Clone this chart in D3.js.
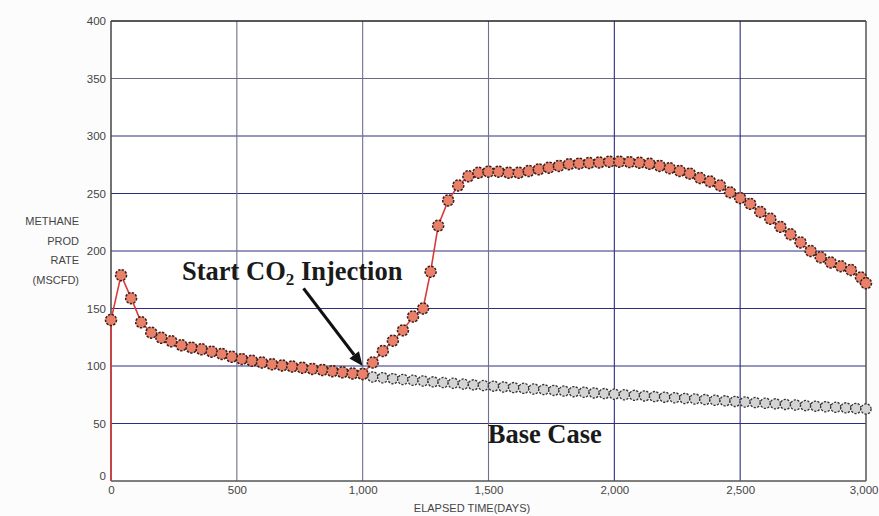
<!DOCTYPE html>
<html><head><meta charset="utf-8">
<script src="https://cdn.jsdelivr.net/npm/d3@7"></script>
<style>
html,body{margin:0;padding:0;background:#fcfcfc;}
svg{display:block;}
</style></head>
<body>
<svg id="chart" width="879" height="516"></svg>
<script>
// ---- data ----
const co2Days = [0,40,80,120,160,200,240,280,320,360,400,440,480,520,560,600,640,680,720,760,800,840,880,920,960,1000,
  1040,1080,1120,1160,1200,1240,1270,1300,1340,1380,1420,1460,1500,1540,1580,1620,1660,1700,1740,1780,1820,1860,1900,1940,1980,
  2020,2060,2100,2140,2180,2220,2260,2300,2340,2380,2420,2460,2500,2540,2580,2620,2660,2700,2740,2780,2820,2860,2900,2940,2980,3000];
const co2Rate = [140,179,159,138,129,124.5,121.5,118,116,114.5,112.5,110.5,108,106,104.5,103,101.5,100.5,99.5,98.5,97.5,96.5,95.5,94.5,93.5,93,
  103,113,122,131,143,150,182,222,244,257,265,268,269,269,268,268,269.5,271,272.5,274,275.5,276,276.5,277,277.7,
  277.7,277.3,276.8,275.8,274,272,269.6,267.3,263.5,260.5,257,251,246,241,234,228,221,214.5,207.5,200,194.5,190,186.8,183.5,177,172];
const baseDays = [1040,1080,1120,1160,1200,1240,1280,1320,1360,1400,1440,1480,1520,1560,1600,1640,1680,1720,1760,1800,1840,1880,1920,1960,2000,
  2040,2080,2120,2160,2200,2240,2280,2320,2360,2400,2440,2480,2520,2560,2600,2640,2680,2720,2760,2800,2840,2880,2920,2960,3000];
const baseRate = [90.5,89.8,89,88.3,87.6,87,86.2,85.6,85,84.3,83.6,83,82.5,81.8,81.2,80.6,80,79.5,78.8,78.2,77.7,77.2,76.6,76,75.5,
  75,74.5,74,73.4,72.9,72.4,71.8,71.3,70.8,70.2,69.7,69.2,68.7,68.2,67.6,67.1,66.6,66.1,65.6,65.1,64.6,64.1,63.6,63.1,62.6];
const xTicks = [0,500,1000,1500,2000,2500,3000];
const xTickLabels = ["0","500","1,000","1,500","2,000","2,500","3,000"];
const yTicks = [0,50,100,150,200,250,300,350,400];
const yTitleLines = ["METHANE","PROD","RATE","(MSCFD)"];
const xTitle = "ELAPSED TIME(DAYS)";

// ---- layout ----
const svg = d3.select("#chart");
const L = 111, R = 866, T = 21, B = 481;
const x = d3.scaleLinear().domain([0,3000]).range([L,R]);
const y = d3.scaleLinear().domain([0,400]).range([B,T]);
const sans = "'Liberation Sans', Arial, sans-serif";
const serif = "'Liberation Serif', 'Times New Roman', serif";

// plot background
svg.append("rect").attr("x",L).attr("y",T).attr("width",R-L).attr("height",B-T).attr("fill","#ffffff");

// gridlines
svg.append("g").selectAll("line").data(yTicks.filter(d=>d>0 && d<400)).join("line")
  .attr("x1",L).attr("x2",R).attr("y1",d=>y(d)).attr("y2",d=>y(d))
  .attr("stroke",d=>d===350?"#6a6a80":"#2e2e7e").attr("stroke-width",1.1);
svg.append("g").selectAll("line").data(xTicks.filter(d=>d>0 && d<3000)).join("line")
  .attr("x1",d=>x(d)).attr("x2",d=>x(d)).attr("y1",T).attr("y2",B)
  .attr("stroke",d=>d<=1500?"#707090":"#2e2e7e").attr("stroke-width",1.1);

// frame
svg.append("line").attr("x1",L).attr("x2",R).attr("y1",T).attr("y2",T).attr("stroke","#222").attr("stroke-width",1.5);
svg.append("line").attr("x1",R).attr("x2",R).attr("y1",T).attr("y2",B).attr("stroke","#555").attr("stroke-width",1.5);
svg.append("line").attr("x1",L).attr("x2",L).attr("y1",T).attr("y2",B).attr("stroke","#444").attr("stroke-width",1.5);
svg.append("line").attr("x1",L).attr("x2",R).attr("y1",B).attr("y2",B).attr("stroke","#555").attr("stroke-width",1.5);

// axes (labels only, using d3 axes)
const yAxis = d3.axisLeft(y).tickValues(yTicks).tickSize(0).tickPadding(5).tickFormat(d3.format("d"));
const gy = svg.append("g").attr("transform",`translate(${L},0)`).call(yAxis);
gy.select(".domain").remove();
gy.selectAll("text").attr("font-family",sans).attr("font-size",11.5).attr("fill","#444")
  .attr("dy",d=>d===0?"-0.1em":"0.32em");

const xAxis = d3.axisBottom(x).tickValues(xTicks).tickSize(0).tickPadding(5)
  .tickFormat((d,i)=>xTickLabels[i]);
const gx = svg.append("g").attr("transform",`translate(0,${B})`).call(xAxis);
gx.select(".domain").remove();
gx.selectAll("text").attr("font-family",sans).attr("font-size",11.5).attr("fill","#444")
  .attr("text-anchor",d=>d===3000?"end":"middle").attr("dx",d=>d===3000?"12px":"0");

// axis titles
svg.append("text").attr("x",472).attr("y",512).attr("text-anchor","middle")
  .attr("font-family",sans).attr("font-size",11).attr("fill","#444").text(xTitle);
svg.append("g").selectAll("text").data(yTitleLines).join("text")
  .attr("x",79).attr("y",(d,i)=>225+i*19.5).attr("text-anchor","end")
  .attr("font-family",sans).attr("font-size",11).attr("fill","#444").text(d=>d);

// base case series
const baseData = baseDays.map((d,i)=>({d, v:baseRate[i]}));
const line = d3.line().x(p=>x(p.d)).y(p=>y(p.v));
svg.append("path").datum(baseData).attr("d",line).attr("fill","none").attr("stroke","#999").attr("stroke-width",1);
svg.append("g").selectAll("circle").data(baseData).join("circle")
  .attr("cx",p=>x(p.d)).attr("cy",p=>y(p.v)).attr("r",5.1)
  .attr("fill","#d4d4d4").attr("stroke","#333").attr("stroke-width",1.3).attr("stroke-dasharray","2.2,1.4");

// CO2 series
const co2Data = co2Days.map((d,i)=>({d, v:co2Rate[i]}));
const co2Line = [{d:0,v:0}].concat(co2Data);
svg.append("path").datum(co2Line).attr("d",line).attr("fill","none").attr("stroke","#d93b3b").attr("stroke-width",1.6);
svg.append("g").selectAll("circle").data(co2Data).join("circle")
  .attr("cx",p=>x(p.d)).attr("cy",p=>y(p.v)).attr("r",5.5)
  .attr("fill","#e8806a").attr("stroke","#3a1f1a").attr("stroke-width",1.5).attr("stroke-dasharray","2.4,1.3");

// annotation: Start CO2 Injection
const t1 = svg.append("text").attr("x",x(282)).attr("y",y(174.5))
  .attr("font-family",serif).attr("font-weight","bold").attr("font-size",26.5).attr("fill","#1a1a1a");
t1.append("tspan").text("Start CO");
t1.append("tspan").attr("font-size",17).attr("dy",5).text("2");
t1.append("tspan").attr("dy",-5).text(" Injection");

// arrow
const ax0 = x(765), ay0 = y(167.5), ax1 = x(1000), ay1 = y(100);
const ang = Math.atan2(ay1-ay0, ax1-ax0);
const hl = 14, hw = 6;
const bx = ax1 - hl*Math.cos(ang), by = ay1 - hl*Math.sin(ang);
svg.append("line").attr("x1",ax0).attr("y1",ay0).attr("x2",bx).attr("y2",by)
  .attr("stroke","#111").attr("stroke-width",3.2);
svg.append("path").attr("d",`M${ax1},${ay1} L${bx - hw*Math.sin(ang)},${by + hw*Math.cos(ang)} L${bx + hw*Math.sin(ang)},${by - hw*Math.cos(ang)} Z`)
  .attr("fill","#111");

// Base Case label
svg.append("text").attr("x",x(1497)).attr("y",y(33))
  .attr("font-family",serif).attr("font-weight","bold").attr("font-size",26.5).attr("fill","#1a1a1a").text("Base Case");
</script>
</body></html>
